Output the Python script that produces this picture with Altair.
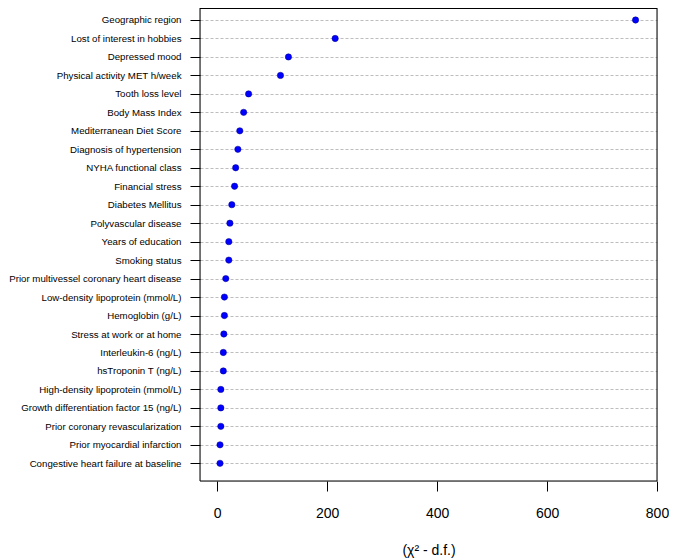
import altair as alt
import pandas as pd

variables = [
    "Geographic region",
    "Lost of interest in hobbies",
    "Depressed mood",
    "Physical activity MET h/week",
    "Tooth loss level",
    "Body Mass Index",
    "Mediterranean Diet Score",
    "Diagnosis of hypertension",
    "NYHA functional class",
    "Financial stress",
    "Diabetes Mellitus",
    "Polyvascular disease",
    "Years of education",
    "Smoking status",
    "Prior multivessel coronary heart disease",
    "Low-density lipoprotein (mmol/L)",
    "Hemoglobin (g/L)",
    "Stress at work or at home",
    "Interleukin-6 (ng/L)",
    "hsTroponin T (ng/L)",
    "High-density lipoprotein (mmol/L)",
    "Growth differentiation factor 15 (ng/L)",
    "Prior coronary revascularization",
    "Prior myocardial infarction",
    "Congestive heart failure at baseline",
]
values = [761, 214.5, 129.5, 115, 57, 48, 41, 37.5, 33.5, 31.5, 26.5, 23, 21, 21,
          15.5, 13, 13, 12, 11, 11, 6.5, 6.5, 6.5, 5, 5]
x_ticks = [0, 200, 400, 600, 800]

df = pd.DataFrame({"variable": variables, "value": values})

FONT = "Liberation Sans"
W, H = 457, 473

points = alt.Chart(df).mark_circle(
    size=40, color="#0000ff", opacity=1, stroke="#00008b", strokeWidth=0.5
).encode(
    x=alt.X(
        "value:Q",
        scale=alt.Scale(domain=[-31.4, 800], nice=False, zero=False),
        axis=alt.Axis(
            values=x_ticks, title="(χ² - d.f.)", grid=False, domain=False,
            tickColor="#000000", tickSize=10, tickWidth=1, tickOpacity=1,
            labelFlush=False,
            labelFontSize=14, labelColor="black", labelFont=FONT, labelPadding=15,
            titleFontSize=14, titleFont=FONT, titleColor="black",
            titleFontWeight="normal", titlePadding=23,
        ),
    ),
    y=alt.Y(
        "variable:N",
        sort=None,
        scale=alt.Scale(type="point", padding=0.804, align=0.404),
        axis=alt.Axis(
            title=None, grid=True, gridColor="#bdbdbd", gridDash=[3, 2], gridWidth=1,
            domain=False, tickColor="#000000", tickSize=10, tickWidth=1, tickOpacity=1,
            labelFontSize=9.7, labelColor="black", labelFont=FONT, labelPadding=9,
            labelLimit=400,
        ),
    ),
)

one = pd.DataFrame({"f": [0]})
frame_h = alt.Chart(one).mark_rule(color="black", strokeWidth=1).encode(
    x=alt.value(0), x2=alt.value(W), y=alt.value(0.5)
)
frame_b = alt.Chart(one).mark_rule(color="black", strokeWidth=1).encode(
    x=alt.value(0), x2=alt.value(W), y=alt.value(H)
)
frame_l = alt.Chart(one).mark_rule(color="black", strokeWidth=1).encode(
    y=alt.value(0), y2=alt.value(H), x=alt.value(0)
)
frame_r = alt.Chart(one).mark_rule(color="black", strokeWidth=1).encode(
    y=alt.value(0), y2=alt.value(H), x=alt.value(W)
)

chart = alt.layer(points, frame_h, frame_b, frame_l, frame_r).properties(
    width=W,
    height=H,
    background="white",
    autosize=alt.AutoSizeParams(type="none"),
    padding={"left": 192, "top": 0, "right": 12, "bottom": 78},
)

chart.save("out.html", embed_options={"renderer": "svg", "actions": False})
